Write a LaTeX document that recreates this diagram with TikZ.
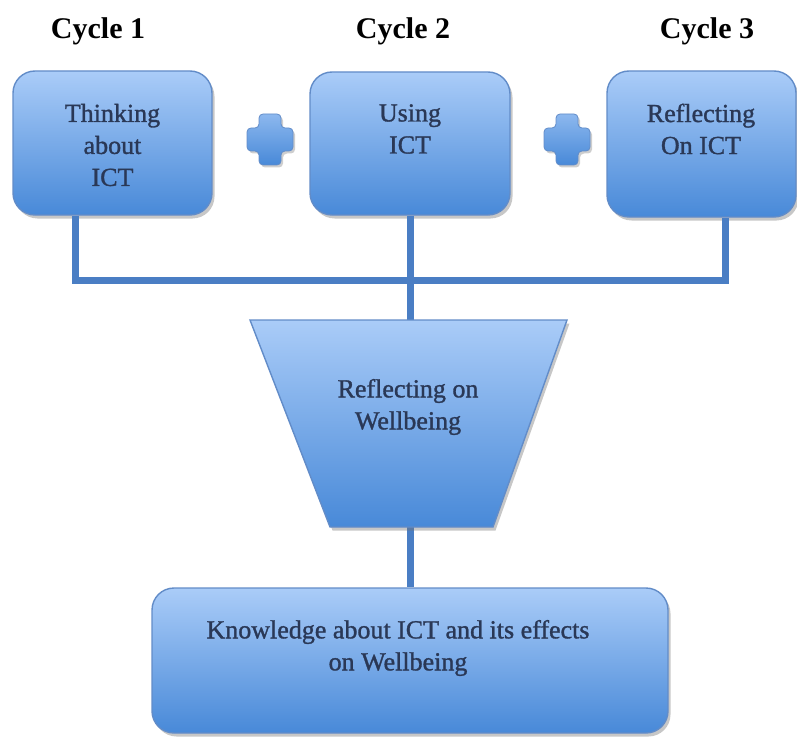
\documentclass[tikz,border=0pt]{standalone}
\usepackage{fontspec}
\setmainfont{Liberation Serif}
\newfontfamily\bodyfont{Liberation Serif}[FakeBold=1.2]
\usetikzlibrary{shadows,calc}
\definecolor{boxtop}{RGB}{170,204,248}
\definecolor{boxbot}{RGB}{72,137,216}
\definecolor{boxline}{RGB}{98,140,200}
\definecolor{conncol}{RGB}{74,126,196}
\definecolor{txtcol}{RGB}{42,56,86}
\tikzset{
  box/.style={draw=boxline, line width=1.4pt, rounded corners=22pt,
    top color=boxtop, bottom color=boxbot, inner sep=0pt,
    drop shadow={shadow xshift=2.5pt, shadow yshift=-3.5pt, opacity=0.4, fill=black!55}},
  funnel/.style={draw=boxline, line width=1.4pt, top color=boxtop, bottom color=boxbot,
    drop shadow={shadow xshift=2.5pt, shadow yshift=-3.5pt, opacity=0.4, fill=black!55}},
  plus/.style={draw=boxline, line width=0.8pt, rounded corners=4pt, top color=boxtop!70!boxbot, bottom color=boxbot,
    drop shadow={shadow xshift=2pt, shadow yshift=-2.5pt, opacity=0.35, fill=black!55}},
  conn/.style={draw=conncol, line width=7pt, line join=miter},
  txt/.style={text=txtcol, align=center, font=\bodyfont\fontsize{26}{32}\selectfont, inner sep=0pt},
  title/.style={text=black, font=\fontsize{30}{34}\selectfont\bfseries, anchor=base, inner sep=0pt}
}
\begin{document}
\begin{tikzpicture}[x=1pt,y=-1pt]
\useasboundingbox (0,0) rectangle (797,738);
% titles
\node[title] (c1) at (98,39) {Cycle 1};
\node[title] (c2) at (403,39) {Cycle 2};
\node[title] (c3) at (707,39) {Cycle 3};
% junction coordinates
\coordinate (j1) at (75,280);
\coordinate (j3) at (725,280);
\coordinate (ftop) at (410,320);
\coordinate (fbot) at (410,527);
% boxes
\node[box, minimum width=199pt, minimum height=144pt] (b1) at (112.5,143) {};
\node[box, minimum width=200pt, minimum height=143pt] (b2) at (410,143.5) {};
\node[box, minimum width=189pt, minimum height=146pt] (b3) at (701.5,144) {};
\node[box, minimum width=516pt, minimum height=145pt] (b4) at (410,660.5) {};
% connectors
\draw[conn] (b1.south -| j1) -- (j1) -- (j3) -- (b3.south -| j3);
\draw[conn] (b2.south) -- (ftop);
\draw[conn] (fbot) -- (b4.north);
% funnel
\coordinate (tl) at (250,320);
\coordinate (tr) at (567,320);
\coordinate (br) at (493,527);
\coordinate (bl) at (330,527);
\path[funnel] (tl) -- (tr) -- (br) -- (bl) -- cycle;
% plus signs
\foreach \cx in {270, 567}{
  \path[plus] (\cx-11,114) -- (\cx+11,114) -- (\cx+11,128) -- (\cx+23,128) -- (\cx+23,151)
    -- (\cx+11,151) -- (\cx+11,165) -- (\cx-11,165) -- (\cx-11,151) -- (\cx-23,151)
    -- (\cx-23,128) -- (\cx-11,128) -- cycle;
}
% texts
\node[txt] (t1) at (112.5,145) {Thinking\\about\\ICT};
\node[txt] (t2) at (410,129) {Using\\ICT};
\node[txt] (t3) at (701,129) {Reflecting\\On ICT};
\node[txt] (tf) at (408,407) {Reflecting on\\Wellbeing};
\node[txt] (t4) at (398,648) {Knowledge about ICT and its effects\\on Wellbeing};
\end{tikzpicture}
\end{document}
